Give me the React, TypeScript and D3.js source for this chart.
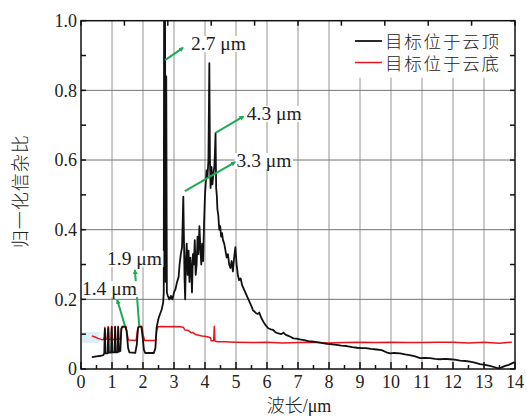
import React from "react";
import * as d3 from "d3";

const W = 527;
const H = 419;

const xTicks = [0, 1, 2, 3, 4, 5, 6, 7, 8, 9, 10, 11, 12, 13, 14];
const yTickLabels = [0, 0.2, 0.4, 0.6, 0.8, 1.0];

const seriesNames = ["目标位于云顶", "目标位于云底"];
const seriesColors = ["#111111", "#e8141c"];

// 目标位于云顶 (cloud top) [wavelength µm, normalized SCR]
const cloudTop: [number, number][] = [
  [0.35, 0.034], [0.5, 0.036], [0.65, 0.038], [0.72, 0.04], [0.75, 0.045], [0.77, 0.115], [0.79, 0.045],
  [0.86, 0.045], [0.88, 0.118], [0.9, 0.047], [0.97, 0.047], [0.99, 0.12], [1.01, 0.048], [1.08, 0.048],
  [1.1, 0.12], [1.12, 0.048], [1.18, 0.048], [1.2, 0.12], [1.22, 0.05], [1.27, 0.052], [1.3, 0.115],
  [1.33, 0.121], [1.43, 0.121], [1.47, 0.11], [1.52, 0.06], [1.56, 0.048], [1.75, 0.046], [1.8, 0.07],
  [1.84, 0.118], [1.88, 0.122], [1.95, 0.12], [1.99, 0.09], [2.03, 0.055], [2.07, 0.046], [2.35, 0.046],
  [2.4, 0.06], [2.44, 0.12], [2.5, 0.145], [2.55, 0.158], [2.6, 0.17], [2.65, 0.19], [2.67, 0.22],
  [2.68, 1.05], [2.7, 0.6], [2.71, 1.05], [2.73, 0.25], [2.75, 0.84], [2.77, 0.22], [2.8, 0.21],
  [2.85, 0.2], [2.9, 0.21], [2.95, 0.2], [3.0, 0.22], [3.05, 0.23], [3.1, 0.25], [3.15, 0.265],
  [3.18, 0.3], [3.22, 0.33], [3.26, 0.35], [3.28, 0.42], [3.3, 0.495], [3.32, 0.38], [3.34, 0.26],
  [3.36, 0.2], [3.38, 0.3], [3.41, 0.36], [3.44, 0.27], [3.47, 0.34], [3.5, 0.25], [3.53, 0.32],
  [3.56, 0.28], [3.58, 0.22], [3.61, 0.33], [3.64, 0.3], [3.67, 0.37], [3.7, 0.27], [3.73, 0.3],
  [3.76, 0.38], [3.79, 0.33], [3.82, 0.41], [3.85, 0.35], [3.88, 0.3], [3.91, 0.36], [3.94, 0.31],
  [3.97, 0.42], [4.0, 0.5], [4.03, 0.54], [4.05, 0.57], [4.08, 0.55], [4.11, 0.6], [4.14, 0.878],
  [4.16, 0.6], [4.18, 0.52], [4.21, 0.58], [4.24, 0.53], [4.27, 0.56], [4.3, 0.58], [4.32, 0.62],
  [4.34, 0.677], [4.36, 0.52], [4.38, 0.5], [4.4, 0.46], [4.43, 0.44], [4.46, 0.4], [4.49, 0.41],
  [4.52, 0.38], [4.55, 0.39], [4.58, 0.37], [4.62, 0.36], [4.66, 0.34], [4.7, 0.32], [4.74, 0.33],
  [4.78, 0.3], [4.82, 0.29], [4.86, 0.31], [4.9, 0.28], [4.94, 0.32], [4.98, 0.35], [5.02, 0.3],
  [5.06, 0.27], [5.1, 0.255], [5.15, 0.26], [5.2, 0.24], [5.25, 0.23], [5.3, 0.22], [5.35, 0.21],
  [5.4, 0.2], [5.45, 0.19], [5.5, 0.18], [5.55, 0.168], [5.6, 0.165], [5.65, 0.16], [5.7, 0.158],
  [5.75, 0.162], [5.8, 0.15], [5.88, 0.136], [5.96, 0.125], [6.04, 0.117], [6.12, 0.114], [6.2, 0.112],
  [6.28, 0.105], [6.37, 0.102], [6.45, 0.1], [6.53, 0.104], [6.61, 0.098], [6.69, 0.095], [6.77, 0.092],
  [6.85, 0.088], [6.95, 0.087], [7.06, 0.085], [7.2, 0.083], [7.33, 0.08], [7.45, 0.079], [7.6, 0.077],
  [7.75, 0.075], [7.93, 0.072], [8.1, 0.071], [8.25, 0.069], [8.4, 0.067], [8.57, 0.066], [8.75, 0.063],
  [8.9, 0.061], [9.05, 0.06], [9.2, 0.06], [9.35, 0.058], [9.54, 0.056], [9.7, 0.054], [9.85, 0.048],
  [9.97, 0.045], [10.1, 0.046], [10.29, 0.045], [10.45, 0.042], [10.6, 0.04], [10.78, 0.036],
  [10.94, 0.031], [11.1, 0.032], [11.26, 0.031], [11.42, 0.029], [11.58, 0.028], [11.75, 0.029],
  [11.9, 0.028], [12.05, 0.027], [12.23, 0.024], [12.4, 0.023], [12.55, 0.021], [12.7, 0.018],
  [12.87, 0.014], [13.03, 0.012], [13.19, 0.009], [13.35, 0.005], [13.46, 0.002], [13.55, 0.004],
  [13.68, 0.009], [13.8, 0.012], [13.9, 0.016], [14.0, 0.02],
];

// 目标位于云底 (cloud bottom)
const cloudBottom: [number, number][] = [
  [0.35, 0.095], [0.45, 0.092], [0.55, 0.088], [0.65, 0.085], [0.72, 0.084], [0.75, 0.09], [0.77, 0.12],
  [0.79, 0.085], [0.84, 0.086], [0.86, 0.105], [0.88, 0.122], [0.9, 0.085], [0.97, 0.085], [0.99, 0.122],
  [1.01, 0.085], [1.08, 0.085], [1.1, 0.123], [1.12, 0.085], [1.18, 0.085], [1.2, 0.123], [1.22, 0.085],
  [1.28, 0.088], [1.31, 0.118], [1.34, 0.123], [1.45, 0.123], [1.49, 0.1], [1.53, 0.083], [1.78, 0.082],
  [1.82, 0.11], [1.86, 0.123], [1.96, 0.123], [2.0, 0.1], [2.05, 0.082], [2.4, 0.082], [2.44, 0.11],
  [2.48, 0.121], [2.6, 0.122], [2.8, 0.121], [3.0, 0.122], [3.2, 0.121], [3.3, 0.12], [3.35, 0.112],
  [3.45, 0.111], [3.5, 0.108], [3.55, 0.104], [3.6, 0.105], [3.7, 0.099], [3.8, 0.097], [3.9, 0.095],
  [4.0, 0.094], [4.1, 0.092], [4.18, 0.09], [4.2, 0.081], [4.28, 0.081], [4.3, 0.123], [4.32, 0.08],
  [4.4, 0.078], [4.6, 0.078], [5.0, 0.077], [5.5, 0.076], [6.0, 0.077], [6.5, 0.075], [7.0, 0.076],
  [7.5, 0.077], [8.0, 0.075], [8.5, 0.076], [9.0, 0.077], [9.5, 0.076], [10.0, 0.077], [10.5, 0.076],
  [11.0, 0.076], [11.5, 0.077], [12.0, 0.077], [12.5, 0.075], [13.0, 0.077], [13.5, 0.074], [13.9, 0.077],
];

// annotations: text, arrow from [wl, v] to [wl, v], label anchor [wl, v]
const annoText = ["2.7 μm", "4.3 μm", "3.3 μm", "1.9 μm", "1.4 μm"];
const annoFrom: [number, number][] = [[2.71, 0.887], [4.34, 0.678], [3.35, 0.511], [1.88, 0.123], [1.42, 0.123]];
const annoTo: [number, number][] = [[3.29, 0.922], [5.24, 0.725], [4.97, 0.594], [1.74, 0.284], [1.17, 0.198]];
const annoLabel: [number, number][] = [[3.55, 0.916], [5.35, 0.715], [5.02, 0.58], [0.84, 0.299], [0.03, 0.212]];

const serifStyle = { fontFamily: "'Liberation Serif', 'Times New Roman', Times, 'DejaVu Serif', serif" };
const cjk = "Noto Sans CJK SC, sans-serif";
const green = "#1faa55";

export default function App() {
  const left = 81, right = 515, top = 20.7, bottom = 369;
  const x = d3.scaleLinear().domain([0, 14]).range([left, right]);
  const y = d3.scaleLinear().domain([0, 1]).range([bottom, top]);
  const line = d3.line<[number, number]>().x((d) => x(d[0])).y((d) => y(d[1]));

  const minorX = d3.range(0, 14.01, 0.5);
  const topTicks = d3.range(0, 11).map((i) => i * 1.4);
  const minorY = d3.range(0, 1.001, 0.1);

  return (
    <svg width={W} height={H} style={{ position: "absolute", left: 0, top: 0, background: "#fff" }}>
      <defs>
        <clipPath id="plot">
          <rect x={left} y={top} width={right - left} height={bottom - top} />
        </clipPath>
        <marker id="arr" viewBox="0 0 10 10" refX="8" refY="5" markerWidth="5" markerHeight="5" orient="auto" markerUnits="userSpaceOnUse">
          <path d="M0,0 L10,5 L0,10 z" fill={green} />
        </marker>
      </defs>
      <rect x={0} y={0} width={W} height={H} fill="#fff" />
      {/* faint blue scan tint */}
      <rect x={x(0.03)} y={y(0.106)} width={x(0.6) - x(0.03)} height={y(0.075) - y(0.106)} fill="#dcedf6" />
      {/* grid */}
      {xTicks.slice(1, -1).map((t) => (
        <line key={"gx" + t} x1={x(t)} x2={x(t)} y1={top} y2={bottom} stroke="#9a9292" strokeWidth={1} />
      ))}
      {yTickLabels.slice(1, -1).map((t) => (
        <line key={"gy" + t} x1={left} x2={right} y1={y(t)} y2={y(t)} stroke="#6f7679" strokeWidth={1} />
      ))}
      {/* legend background */}
      <rect x={350} y={top} width={right - 350} height={57} fill="#fff" />
      {/* data */}
      <g clipPath="url(#plot)">
        <path d={line(cloudBottom) || ""} fill="none" stroke={seriesColors[1]} strokeWidth={1.5} strokeLinejoin="round" />
        <path d={line(cloudTop) || ""} fill="none" stroke={seriesColors[0]} strokeWidth={1.8} strokeLinejoin="round" />
      </g>
      {/* annotations */}
      {annoText.map((t, i) => {
        const lx = x(annoLabel[i][0]);
        const ly = y(annoLabel[i][1]);
        const w = t.length * 9.4 + 2;
        return (
          <g key={"a" + i}>
            <rect x={lx - 2} y={ly - 14} width={w} height={16} fill="#fff" />
            <line x1={x(annoFrom[i][0])} y1={y(annoFrom[i][1])} x2={x(annoTo[i][0])} y2={y(annoTo[i][1])}
              stroke={green} strokeWidth={2} markerEnd="url(#arr)" />
            <text x={lx} y={ly} style={serifStyle} fontSize={19.5} fill="#222">{t}</text>
          </g>
        );
      })}
      {/* frame */}
      <rect x={left} y={top} width={right - left} height={bottom - top} fill="none" stroke="#111" strokeWidth={1.5} />
      {/* ticks */}
      {minorX.map((t) => {
        const major = Math.abs(t - Math.round(t)) < 1e-6;
        return <line key={"bt" + t} x1={x(t)} x2={x(t)} y1={bottom} y2={bottom - (major ? 7 : 4)} stroke="#111" strokeWidth={1.5} />;
      })}
      {topTicks.map((t) => (
        <line key={"tt" + t} x1={x(t)} x2={x(t)} y1={top} y2={top + 5} stroke="#111" strokeWidth={1.5} />
      ))}
      {minorY.map((t) => (
        <g key={"yt" + t}>
          <line x1={left} x2={left + 5} y1={y(t)} y2={y(t)} stroke="#111" strokeWidth={1.5} />
          <line x1={right} x2={right - 5} y1={y(t)} y2={y(t)} stroke="#111" strokeWidth={1.5} />
        </g>
      ))}
      {/* tick labels */}
      {xTicks.map((t) => (
        <text key={"xl" + t} x={x(t)} y={388} textAnchor="middle" style={serifStyle} fontSize={18} fill="#222">{t}</text>
      ))}
      {yTickLabels.map((t) => (
        <text key={"yl" + t} x={77} y={y(t)} dy="0.35em" textAnchor="end" style={serifStyle} fontSize={18} fill="#222">
          {t === 0 ? "0" : t.toFixed(1)}
        </text>
      ))}
      {/* axis titles */}
      <text x={299} y={412} textAnchor="middle" fontSize={18} fill="#222">
        <tspan fontFamily={cjk} fontWeight={300}>波长</tspan>
        <tspan style={serifStyle}>/μm</tspan>
      </text>
      <text transform={`translate(27, ${y(0.51)}) rotate(-90)`} textAnchor="middle" fontFamily={cjk} fontWeight={300}
        fontSize={18} letterSpacing={1} fill="#222">归一化信杂比</text>
      {/* legend */}
      {seriesNames.map((n, i) => (
        <g key={"lg" + i}>
          <line x1={355} x2={382} y1={41 + i * 21.5} y2={41 + i * 21.5} stroke={seriesColors[i]} strokeWidth={i === 0 ? 1.8 : 1.5} />
          <text x={385} y={42 + i * 21.5} dy="0.36em" fontFamily={cjk} fontWeight={300} fontSize={17.5} letterSpacing={1.8} fill="#222">{n}</text>
        </g>
      ))}
    </svg>
  );
}
